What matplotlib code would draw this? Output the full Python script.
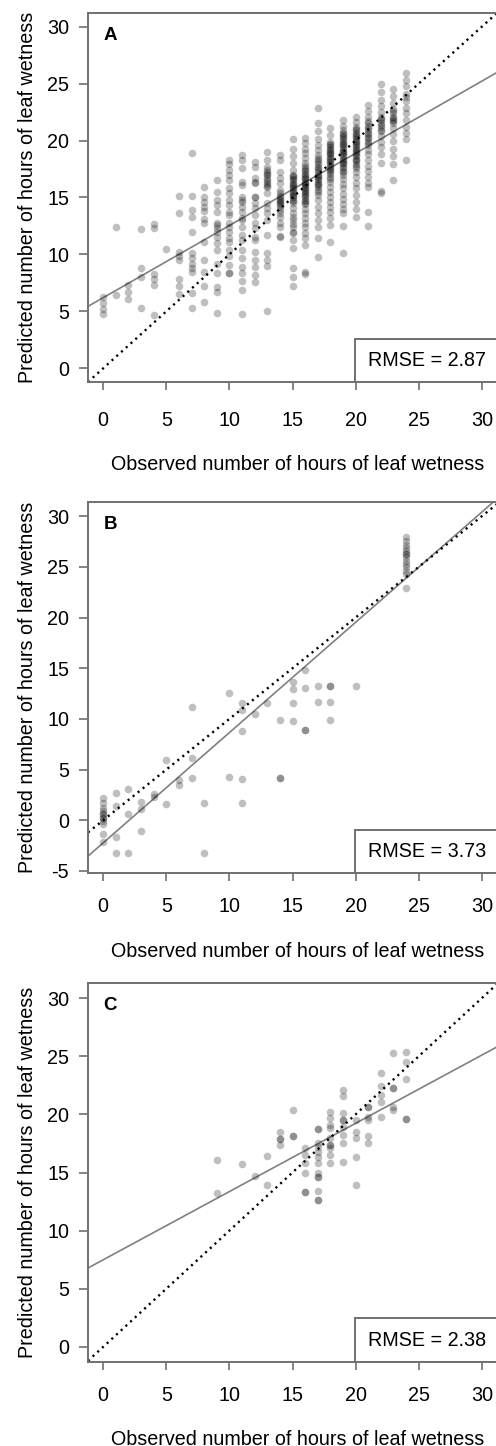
import matplotlib
matplotlib.use("Agg")
import matplotlib.pyplot as plt
from matplotlib.patches import Rectangle

plt.rcParams['font.family'] = ['Liberation Sans', 'DejaVu Sans']
plt.rcParams['axes.unicode_minus'] = False

# ---- panel A: observed hours and predicted values per observed hour ----
a_obs = list(range(0, 25))
a_pred = [
    [6.3, 5.7, 5.2, 4.8],
    [12.4, 6.4],
    [7.3, 6.7, 6.1],
    [12.2, 8.8, 8.0, 5.3],
    [12.7, 12.3, 8.3, 7.8, 7.3, 4.7],
    [10.5],
    [15.1, 13.6, 10.2, 9.9, 9.5, 7.8, 7.2, 6.5],
    [18.9, 15.1, 13.9, 13.3, 12.0, 10.1, 9.7, 9.2, 8.8, 8.5, 6.6, 5.3],
    [15.9, 15.0, 14.6, 14.2, 13.8, 13.1, 12.8, 11.1, 9.5, 8.5, 7.2, 5.8],
    [16.5, 15.5, 14.8, 14.3, 13.7, 12.8, 12.6, 12.3, 12.0, 11.5, 11.0, 10.4, 9.2, 8.4, 7.1, 6.7, 4.9],
    [18.3, 17.9, 17.4, 17.0, 16.5, 15.8, 15.4, 14.8, 14.3, 13.7, 13.5, 12.8, 12.4, 12.0, 11.4, 11.1,
     10.4, 9.9, 9.1, 8.4, 8.4],
    [18.7, 18.3, 17.6, 16.4, 16.1, 15.0, 14.8, 14.6, 14.2, 13.7, 13.2, 13.0, 12.4, 11.7, 11.3, 10.4,
     9.7, 8.9, 8.4, 7.7, 6.9, 4.8],
    [18.1, 17.7, 16.7, 16.4, 16.3, 15.0, 15.0, 14.5, 14.1, 13.5, 12.8, 12.3, 11.5, 11.3, 10.2, 9.5,
     8.9, 8.2, 7.6],
    [19.0, 18.3, 17.7, 17.4, 17.2, 17.1, 17.0, 16.7, 16.5, 16.4, 16.2, 16.0, 15.9, 15.4, 14.5, 14.1,
     13.6, 13.0, 11.7, 10.1, 9.5, 9.0, 5.0],
    [18.7, 18.3, 17.2, 16.7, 16.3, 15.7, 15.4, 15.1, 15.0, 14.8, 14.8, 14.6, 14.5, 14.3, 14.2, 13.9,
     13.6, 13.3, 12.8, 12.4, 11.6, 11.5],
    [20.1, 19.3, 18.6, 18.0, 17.4, 17.0, 16.9, 16.8, 16.6, 16.5, 16.3, 16.2, 16.1, 15.9, 15.8, 15.7,
     15.5, 15.4, 15.2, 15.1, 15.0, 14.8, 14.7, 14.5, 14.1, 13.6, 13.3, 13.0, 12.7, 12.4, 12.0, 11.9,
     11.3, 10.6, 8.8, 8.0, 7.2],
    [20.2, 19.8, 19.3, 18.9, 18.5, 18.0, 17.8, 17.6, 17.4, 17.3, 17.1, 17.0, 16.8, 16.7, 16.6, 16.4,
     16.3, 16.2, 16.1, 15.9, 15.8, 15.7, 15.6, 15.4, 15.3, 15.1, 15.0, 14.8, 14.7, 14.5, 14.4, 14.0,
     13.6, 13.2, 12.8, 12.4, 11.9, 11.4, 10.8, 8.5, 8.3],
    [22.9, 21.5, 20.8, 20.1, 19.6, 19.2, 18.7, 18.5, 18.3, 18.1, 17.9, 17.7, 17.6, 17.4, 17.2, 17.0,
     16.9, 16.8, 16.6, 16.5, 16.3, 16.2, 16.1, 15.9, 15.7, 15.5, 15.2, 14.8, 14.2, 13.6, 13.0, 12.4,
     11.4, 9.8],
    [21.1, 20.5, 19.9, 19.7, 19.6, 19.4, 19.3, 19.2, 19.0, 18.9, 18.8, 18.6, 18.5, 18.4, 18.2, 18.1,
     17.9, 17.8, 17.7, 17.5, 17.4, 17.2, 17.1, 16.8, 16.6, 16.4, 15.9, 15.5, 15.0, 14.6, 14.2, 13.7,
     13.2, 12.6, 11.1],
    [21.8, 21.3, 20.9, 20.7, 20.6, 20.4, 20.3, 20.1, 20.0, 19.8, 19.7, 19.6, 19.4, 19.3, 19.1, 19.0,
     18.9, 18.7, 18.6, 18.4, 18.3, 18.1, 18.0, 17.9, 17.7, 17.6, 17.3, 17.2, 17.0, 16.6, 16.2, 15.8,
     15.3, 14.9, 14.4, 14.0, 13.6, 12.5, 10.1],
    [22.1, 21.6, 21.2, 21.0, 20.9, 20.7, 20.6, 20.4, 20.3, 20.1, 20.0, 19.9, 19.7, 19.6, 19.4, 19.3,
     19.2, 19.0, 18.9, 18.7, 18.6, 18.4, 18.3, 18.2, 17.9, 17.8, 17.6, 17.2, 16.8, 16.3, 15.8, 15.2,
     14.6, 14.0, 13.3],
    [23.1, 22.6, 22.1, 21.7, 21.5, 21.3, 21.1, 20.9, 20.7, 20.6, 20.3, 20.2, 20.0, 19.8, 19.6, 19.2,
     18.8, 18.3, 17.8, 17.3, 16.8, 16.3, 15.9, 13.7, 12.5],
    [25.0, 24.3, 23.6, 23.0, 22.5, 22.1, 21.9, 21.8, 21.5, 21.4, 21.2, 20.9, 20.8, 20.4, 19.9, 19.4,
     18.8, 18.0, 15.6, 15.4],
    [24.5, 23.9, 23.3, 22.8, 22.6, 22.4, 22.1, 22.0, 21.8, 21.7, 21.5, 21.1, 20.6, 20.0, 19.3, 18.6,
     17.9, 16.5],
    [25.9, 25.3, 24.8, 24.1, 23.8, 23.5, 22.9, 22.4, 21.8, 21.2, 20.7, 20.1, 18.3],
]
a_fit = (6.2, 0.634)   # intercept, slope

# ---- panel B ----
b_obs = [0, 1, 2, 3, 4, 5, 6, 7, 8, 10, 11, 12, 13, 14, 15, 16, 17, 18, 20, 24]
b_pred = [
    [2.2, 1.7, 1.2, 0.9, 0.6, 0.6, 0.2, 0.2, -0.1, -0.4, -1.4, -2.1],
    [2.7, 1.4, -1.6, -3.2],
    [3.1, 0.6, -3.2],
    [1.8, 1.1, -1.1],
    [2.6, 2.3],
    [5.9, 1.6],
    [4.0, 3.5],
    [11.2, 6.1, 4.2],
    [1.7, -3.2],
    [12.6, 4.3],
    [11.6, 10.9, 8.8, 4.1, 1.7],
    [10.5],
    [11.6],
    [9.9, 4.2, 4.2],
    [13.6, 13.0, 11.6, 9.8],
    [14.8, 13.1, 8.9, 8.9],
    [13.2, 11.7],
    [13.2, 13.2, 11.7, 9.9],
    [13.2],
    [27.9, 27.6, 27.2, 26.9, 26.6, 26.3, 26.3, 26.0, 25.6, 25.3, 25.0, 24.6, 24.3, 22.9],
]
b_fit = (-2.23, 1.088)

# ---- panel C ----
c_obs = [9, 11, 12, 13, 14, 15, 16, 17, 18, 19, 20, 21, 22, 23, 24]
c_pred = [
    [16.1, 13.2],
    [15.7],
    [14.7],
    [16.4, 13.9],
    [18.5, 17.9, 17.9, 17.4],
    [20.4, 18.1, 18.1],
    [17.1, 16.5, 15.8, 15.0, 13.3, 13.3],
    [18.7, 18.7, 17.5, 17.2, 16.8, 16.3, 15.8, 15.0, 14.6, 14.6, 13.4, 12.6, 12.6],
    [20.2, 19.7, 19.1, 18.8, 18.0, 17.4, 17.4, 17.1, 16.5, 15.8],
    [22.1, 21.6, 20.1, 19.5, 19.5, 18.9, 18.2, 17.5, 15.9],
    [19.5, 18.5, 18.0, 16.3, 13.9],
    [20.6, 20.6, 19.8, 19.5, 18.1, 17.5],
    [23.6, 22.4, 21.7, 21.1, 19.8],
    [25.3, 22.3, 22.3, 20.6, 20.4],
    [25.4, 24.5, 23.0, 19.6, 19.6],
]
c_fit = (7.49, 0.587)

letters = ['A', 'B', 'C']
rmse = [2.87, 3.73, 2.38]
x_ticks = [0, 5, 10, 15, 20, 25, 30]
y_ticks_ac = [0, 5, 10, 15, 20, 25, 30]
y_ticks_b = [-5, 0, 5, 10, 15, 20, 25, 30]

FRAME = '#707070'
FS = 14.2
W, H = 496, 1446

fig = plt.figure(figsize=(W / 100, H / 100), dpi=100)


def px_axes(top, bottom, left=88, right=497):
    return [left / W, 1 - bottom / H, (right - left) / W, (bottom - top) / H]


def draw_panel(rect, obs, pred, fit, letter, err, ylim, yticks, xpad, xlab_y):
    ax = fig.add_axes(rect)
    xs = [x for x, col in zip(obs, pred) for _ in col]
    ys = [v for col in pred for v in col]
    ax.axline((0, fit[0]), slope=fit[1], color='#808080', lw=1.2, zorder=2)
    ax.axline((0, 0), slope=1, color='black', lw=1.7, linestyle=(0, (0.9, 1.8)), zorder=2)
    ax.scatter(xs, ys, s=30, color='black', alpha=0.25, linewidths=0, zorder=3)

    ax.set_xlim(-1.2, 31.2)
    ax.set_ylim(*ylim)
    ax.set_xticks(x_ticks)
    ax.set_yticks(yticks)
    ax.tick_params(axis='x', length=6, width=1.2, color=FRAME, pad=xpad, labelsize=FS)
    ax.tick_params(axis='y', length=6.5, width=1.2, color=FRAME, pad=7, labelsize=FS)
    for s in ax.spines.values():
        s.set_color(FRAME)
        s.set_linewidth(1.4)

    ax.set_xlabel('Observed number of hours of leaf wetness', fontsize=FS, va='top')
    ax.xaxis.set_label_coords(0.512, xlab_y)
    ax.set_ylabel('Predicted number of hours of leaf wetness', fontsize=FS)
    ax.yaxis.set_label_coords(-0.125, 0.5)

    ax.text(0.055, 0.94, letter, transform=ax.transAxes, fontsize=13.5,
            fontweight='bold', ha='center', va='center')
    ax.add_patch(Rectangle((0.654, 0), 0.346, 0.117, transform=ax.transAxes,
                           fill=False, edgecolor=FRAME, lw=1.4, zorder=4))
    ax.text(0.83, 0.058, f'RMSE = {err:.2f}', transform=ax.transAxes,
            fontsize=FS, ha='center', va='center', zorder=5)
    return ax


draw_panel(px_axes(13, 382), a_obs, a_pred, a_fit, letters[0], rmse[0],
           (-1.2, 31.2), y_ticks_ac, 15, -0.198)
draw_panel(px_axes(502, 873), b_obs, b_pred, b_fit, letters[1], rmse[1],
           (-5.2, 31.4), y_ticks_b, 11, -0.186)
draw_panel(px_axes(983, 1362), c_obs, c_pred, c_fit, letters[2], rmse[2],
           (-1.3, 31.3), y_ticks_ac, 11, -0.179)

fig.savefig('out.png', dpi=100)
